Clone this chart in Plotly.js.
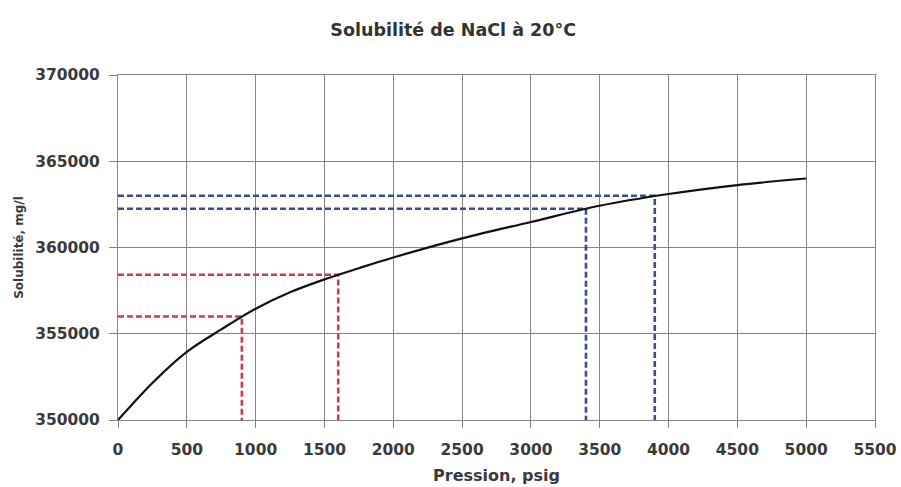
<!DOCTYPE html>
<html>
<head>
<meta charset="utf-8">
<script src="https://cdn.plot.ly/plotly-3.0.1.min.js"></script>
<style>html,body{margin:0;padding:0;background:#fff;}#chart{width:901px;height:487px;}</style>
</head>
<body>
<div id="chart"></div>
<script>
// Solubility curve (pressure psig -> solubility mg/l)
const pressure = [0, 250, 500, 750, 1000, 1250, 1500, 1750, 2000, 2500, 3000, 3500, 4000, 4500, 5000];
const solubility = [350000, 352150, 353950, 355250, 356450, 357400, 358150, 358800, 359420, 360530, 361480, 362420, 363100, 363620, 364000];

// Reading guides (dashed)
const redPressure = [900, 1600];
const redSolubility = [356000, 358420];
const bluePressure = [3400, 3900];
const blueSolubility = [362250, 363000];

const xMin = 0, xMax = 5500, yMin = 350000, yMax = 370000;

function guide(px, sy, color) {
  return {
    x: [xMin, px, px],
    y: [sy, sy, yMin],
    mode: 'lines',
    line: {color: color, width: 2.6, dash: '6px,3px'},
    hoverinfo: 'skip',
    showlegend: false
  };
}

const traces = [];
redPressure.forEach((p, i) => traces.push(guide(p, redSolubility[i], '#cc3d4c')));
bluePressure.forEach((p, i) => traces.push(guide(p, blueSolubility[i], '#3a4c8c')));
traces.push({
  x: pressure,
  y: solubility,
  mode: 'lines',
  line: {color: '#111111', width: 2.2, shape: 'spline', smoothing: 1},
  showlegend: false
});

const axisFont = {family: 'DejaVu Sans', size: 15.5, color: '#3a3a3a', weight: 'bold'};

const layout = {
  width: 901,
  height: 487,
  paper_bgcolor: '#ffffff',
  plot_bgcolor: '#ffffff',
  margin: {l: 118, r: 26, t: 75, b: 67},
  showlegend: false,
  title: {
    text: '<b>Solubilité de NaCl à 20°C</b>',
    font: {family: 'DejaVu Sans', size: 17.5, color: '#333333'},
    xref: 'container', x: 0.503, xanchor: 'center',
    yref: 'container', y: 0.938, yanchor: 'middle'
  },
  xaxis: {
    range: [xMin, xMax],
    dtick: 500, tick0: 0,
    showgrid: true, gridcolor: '#858585', gridwidth: 1,
    showline: true, linecolor: '#858585', linewidth: 1, mirror: true,
    ticks: 'outside', ticklen: 7, tickcolor: '#858585',
    ticklabelstandoff: 8,
    tickfont: axisFont,
    zeroline: false,
    title: {text: '<b>Pression, psig</b>', font: {family: 'DejaVu Sans', size: 16, color: '#3a3a3a'}, standoff: 12}
  },
  yaxis: {
    range: [yMin, yMax],
    dtick: 5000, tick0: 350000,
    tickformat: 'd',
    showgrid: true, gridcolor: '#858585', gridwidth: 1,
    showline: true, linecolor: '#858585', linewidth: 1, mirror: true,
    ticks: 'outside', ticklen: 8, tickcolor: '#858585',
    ticklabelstandoff: 6,
    tickfont: axisFont,
    zeroline: false,
    title: {text: '<b>Solubilité, mg/l</b>', font: {family: 'DejaVu Sans', size: 12, color: '#3a3a3a'}, standoff: 8}
  }
};

Plotly.newPlot('chart', traces, layout, {displayModeBar: false, staticPlot: true});
</script>
</body>
</html>
